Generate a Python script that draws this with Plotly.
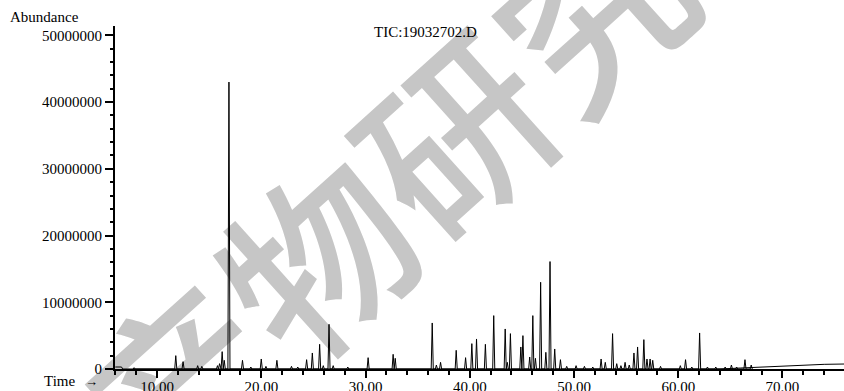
import plotly.graph_objects as go

# ---- data (retention time in min, abundance) ----
peak_times = [7.8, 11.8, 12.5, 13.9, 14.3, 15.8, 16.0, 16.25, 16.45, 16.9,
              18.2, 19.0, 20.0, 20.45, 21.5, 22.9, 23.5, 24.35, 24.9, 25.6,
              25.95, 26.5, 26.9, 28.3, 30.25, 32.65, 32.85, 36.4, 36.8, 37.2,
              38.7, 39.6, 40.2, 40.65, 41.5, 42.3, 43.4, 43.6, 43.9, 44.9,
              45.1, 45.75, 46.05, 46.3, 46.8, 47.3, 47.7, 48.15, 48.7, 49.3,
              50.2, 51.0, 51.8, 52.6, 53.0, 53.7, 54.1, 54.5, 54.9, 55.3,
              55.75, 56.1, 56.7, 57.0, 57.3, 57.55, 58.3, 60.2, 60.7, 61.3,
              62.05, 62.8, 63.6, 64.5, 65.1, 65.6, 66.4, 67.0]
peak_heights = [0.2e6, 2.0e6, 1.1e6, 0.5e6, 0.4e6, 0.5e6, 0.8e6, 2.6e6, 1.3e6, 43.0e6,
                1.3e6, 0.3e6, 1.5e6, 0.4e6, 1.3e6, 0.4e6, 0.3e6, 1.4e6, 2.4e6, 3.7e6,
                0.5e6, 6.7e6, 0.5e6, 0.3e6, 1.7e6, 2.2e6, 1.6e6, 6.9e6, 0.6e6, 1.0e6,
                2.8e6, 1.7e6, 3.8e6, 4.5e6, 3.7e6, 8.0e6, 6.0e6, 1.0e6, 5.3e6, 3.3e6,
                5.0e6, 1.8e6, 8.0e6, 1.6e6, 13.0e6, 2.5e6, 16.1e6, 3.0e6, 1.4e6, 0.4e6,
                0.5e6, 0.4e6, 0.3e6, 1.5e6, 1.0e6, 5.3e6, 0.8e6, 0.5e6, 1.0e6, 0.6e6,
                2.4e6, 3.3e6, 4.4e6, 1.5e6, 1.5e6, 1.3e6, 0.4e6, 0.5e6, 1.4e6, 0.3e6,
                5.4e6, 0.3e6, 0.3e6, 0.3e6, 0.6e6, 0.3e6, 1.4e6, 0.6e6]

baseline_times = [6.0, 6.6, 6.7, 64.0, 66.0, 68.0, 70.0, 72.0, 74.0, 76.0]
baseline_values = [0.3e6, 0.3e6, 0.0, 0.0, 0.15e6, 0.3e6, 0.45e6, 0.6e6, 0.7e6, 0.75e6]

x_tick_values = [10, 20, 30, 40, 50, 60, 70]
x_tick_labels = ["10.00", "20.00", "30.00", "40.00", "50.00", "60.00", "70.00"]
y_tick_values = [0, 10e6, 20e6, 30e6, 40e6, 50e6]
y_tick_labels = ["0", "10000000", "20000000", "30000000", "40000000", "50000000"]

title_text = "TIC:19032702.D"
watermark_text = "天然产物研究与开发"

# ---- build the trace: each peak drawn as a narrow spike ----
HW = 0.1
xs, ys = [], []
for t, h in sorted(zip(peak_times, peak_heights)):
    xs += [t - HW, t, t + HW]
    ys += [0, h, 0]

FONT = "Liberation Serif"

fig = go.Figure()
fig.add_trace(go.Scatter(x=baseline_times, y=baseline_values, mode="lines",
                         line=dict(color="black", width=1), hoverinfo="skip"))
fig.add_trace(go.Scatter(x=xs, y=ys, mode="lines",
                         line=dict(color="black", width=1)))

fig.update_layout(
    width=844, height=391,
    margin=dict(l=115, r=0, t=26, b=22, autoexpand=False),
    paper_bgcolor="white", plot_bgcolor="white",
    showlegend=False,
    font=dict(family=FONT, size=15, color="black"),
)
fig.update_xaxes(
    range=[5.97, 75.9], showgrid=False, zeroline=False,
    showline=True, linecolor="black", linewidth=2,
    ticks="outside", ticklen=7, tickwidth=1.5, tickcolor="black",
    tickvals=x_tick_values, ticktext=x_tick_labels, ticklabelstandoff=-4,
    minor=dict(ticks="outside", dtick=2, tick0=0, ticklen=4, tickwidth=1.5, tickcolor="black"),
    tickfont=dict(family=FONT, size=15, color="black"),
)
fig.update_yaxes(
    range=[0, 51.4e6], showgrid=False, zeroline=False,
    showline=True, linecolor="black", linewidth=2,
    ticks="outside", ticklen=8, tickwidth=1.5, tickcolor="black",
    tickvals=y_tick_values, ticktext=y_tick_labels,
    minor=dict(ticks="outside", dtick=2e6, tick0=0, ticklen=3, tickwidth=1.5, tickcolor="black"),
    tickfont=dict(family=FONT, size=15, color="black"),
)

fig.add_annotation(text=title_text, xref="paper", yref="paper", x=0.4266, y=0.9825,
                   xanchor="center", yanchor="middle", showarrow=False,
                   font=dict(family=FONT, size=15, color="black"))
fig.add_annotation(text="Abundance", xref="paper", yref="paper", x=-0.1468, y=1.026,
                   xanchor="left", yanchor="middle", showarrow=False,
                   font=dict(family=FONT, size=15, color="black"))
fig.add_annotation(text="Time", xref="paper", yref="paper", x=-0.1001, y=-0.035,
                   xanchor="left", yanchor="middle", showarrow=False,
                   font=dict(family=FONT, size=15, color="black"))
fig.add_annotation(text="→", xref="paper", yref="paper", x=-0.0316, y=-0.035,
                   xanchor="center", yanchor="middle", showarrow=False,
                   font=dict(family=FONT, size=13, color="black"))

# watermark, drawn beneath the data
fig.add_shape(type="rect", xref="paper", yref="paper",
              x0=0.4770, x1=0.4970, y0=0.626, y1=0.646,
              line=dict(width=0), fillcolor="rgba(0,0,0,0)", layer="below",
              label=dict(text=watermark_text, textangle=-42, textposition="middle center",
                         font=dict(family="Noto Sans CJK SC", size=185, color="#c6c6c6",
                                   weight=500)))

fig.write_html("out.html", config={"displayModeBar": False},
               post_script="document.body.style.margin='0';")
